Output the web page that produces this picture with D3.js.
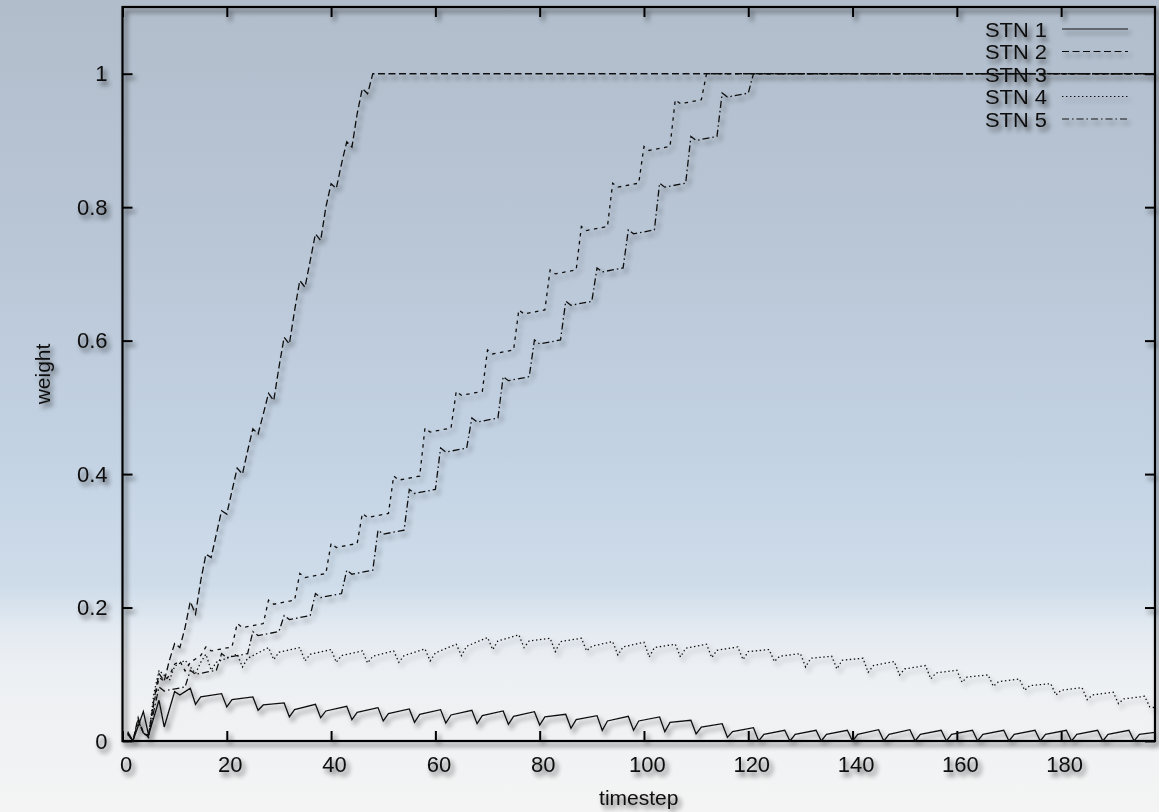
<!DOCTYPE html>
<html>
<head>
<meta charset="utf-8">
<script src="https://cdn.jsdelivr.net/npm/d3@7"></script>
<style>
  html, body { margin: 0; padding: 0; }
  body { width: 1159px; height: 812px; overflow: hidden; }
  text { font-family: "Liberation Sans", Arial, Helvetica, sans-serif; fill: #0d0d0d; }
</style>
</head>
<body>
<div id="chart"></div>
<script>
// ---- data ----
const seriesNames = ["STN 1", "STN 2", "STN 3", "STN 4", "STN 5"];
const xTicks = [0, 20, 40, 60, 80, 100, 120, 140, 160, 180];
const yTicks = [0, 0.2, 0.4, 0.6, 0.8, 1];
const yTickLabels = ["0", "0.2", "0.4", "0.6", "0.8", "1"];

// [timestep, weight]
const stn1 = [[1,0.014],[2,0],[4,0.044],[5,0.009],[7,0.061],[8,0.021],[10,0.074],[11,0.069],[12,0.074],[13,0.079],
  [14,0.055],[15,0.066],[19,0.071],[20,0.051],[21,0.062],[25,0.066],[26,0.046],[27,0.054],[31,0.057],
  [32,0.036],[33,0.047],[37,0.055],[38,0.035],[39,0.045],[43,0.052],[44,0.032],[45,0.043],[49,0.050],
  [50,0.030],[51,0.041],[55,0.048],[56,0.028],[57,0.040],[61,0.047],[62,0.027],[63,0.039],[67,0.046],
  [68,0.026],[69,0.038],[73,0.045],[74,0.025],[75,0.037],[79,0.044],[80,0.024],[81,0.036],[85,0.040],
  [86,0.019],[87,0.032],[91,0.038],[92,0.016],[93,0.030],[97,0.037],[98,0.016],[99,0.030],[103,0.036],
  [104,0.014],[105,0.028],[109,0.031],[110,0.0105],[111,0.021],[115,0.026],[116,0.0055],[117,0.014],[121,0.020],
  [122,0],[123,0.010],[127,0.016],[128,0],[129,0.010],[133,0.016],[134,0],[135,0.010],[139,0.016],
  [140,0],[141,0.010],[145,0.017],[146,0],[147,0.010],[151,0.017],[152,0],[153,0.010],[157,0.016],
  [158,0],[159,0.010],[163,0.016],[164,0],[165,0.010],[169,0.016],[170,0],[171,0.010],[175,0.016],
  [176,0],[177,0.010],[181,0.016],[182,0],[183,0.010],[187,0.016],[188,0],[189,0.010],[193,0.016],
  [194,0],[195,0.010],[198,0.013]];

const stn2 = [[1,0.01],[2,0],[3,0.035],[4,0.012],[5,0.009],[6,0.06],[7,0.101],[8,0.09],[9,0.121],[10,0.146],
  [11,0.14],[12,0.17],[13,0.209],[14,0.19],[15,0.24],[16,0.28],[17,0.275],[18,0.31],[19,0.345],[20,0.34],
  [21,0.375],[22,0.409],[23,0.40],[24,0.435],[25,0.468],[26,0.46],[27,0.49],[28,0.521],[29,0.51],[30,0.56],
  [31,0.605],[32,0.595],[33,0.645],[34,0.69],[35,0.68],[36,0.72],[37,0.76],[38,0.75],[39,0.80],[40,0.835],
  [41,0.828],[42,0.865],[43,0.898],[44,0.89],[45,0.94],[46,0.978],[47,0.97],[48,1.0],[198,1.0]];

const stn3 = [[1,0.012],[2,0],[3,0.032],[4,0.012],[5,0.008],[6,0.055],[7,0.095],[8,0.09],[9,0.098],[10,0.115],
  [11,0.12],[12,0.105],[13,0.118],[15,0.128],[16,0.141],[17,0.135],[21,0.141],[22,0.176],[23,0.170],[27,0.176],
  [28,0.211],[29,0.205],[33,0.211],[34,0.251],[35,0.245],[39,0.251],[40,0.296],[41,0.290],[45,0.296],
  [46,0.341],[47,0.335],[51,0.341],[52,0.397],[53,0.391],[57,0.397],[58,0.469],[59,0.463],[63,0.469],
  [64,0.524],[65,0.518],[69,0.524],[70,0.586],[71,0.580],[75,0.586],[76,0.646],[77,0.640],[81,0.646],
  [82,0.706],[83,0.700],[87,0.706],[88,0.771],[89,0.765],[93,0.771],[94,0.836],[95,0.830],[99,0.836],
  [100,0.891],[101,0.885],[105,0.891],[106,0.961],[107,0.955],[111,0.961],[112,1.0],[198,1.0]];

const stn4 = [[1,0.01],[2,0],[3,0.03],[4,0.012],[5,0.005],[6,0.07],[7,0.106],[9,0.091],[10,0.112],[12,0.121],
  [14,0.101],[15,0.118],[16,0.13],[17,0.106],[18,0.118],[22,0.130],[23,0.111],[24,0.124],[28,0.140],
  [29,0.122],[30,0.133],[34,0.140],[35,0.120],[36,0.130],[40,0.137],[41,0.118],[42,0.128],[46,0.135],
  [47,0.117],[48,0.127],[52,0.135],[53,0.118],[54,0.128],[58,0.138],[59,0.120],[60,0.132],[64,0.145],
  [65,0.128],[66,0.142],[70,0.155],[71,0.137],[72,0.150],[76,0.159],[77,0.140],[78,0.150],[82,0.154],
  [83,0.134],[84,0.149],[88,0.154],[89,0.135],[90,0.142],[94,0.149],[95,0.129],[96,0.141],[100,0.148],
  [101,0.126],[102,0.140],[106,0.145],[107,0.126],[108,0.139],[112,0.145],[113,0.125],[114,0.136],[118,0.141],
  [119,0.122],[120,0.134],[124,0.137],[125,0.119],[126,0.127],[130,0.131],[131,0.111],[132,0.124],[136,0.127],
  [137,0.108],[138,0.121],[142,0.124],[143,0.103],[144,0.113],[148,0.119],[149,0.099],[150,0.108],[154,0.113],
  [155,0.093],[156,0.102],[160,0.106],[161,0.088],[162,0.096],[166,0.099],[167,0.082],[168,0.089],[172,0.093],
  [173,0.076],[174,0.083],[178,0.086],[179,0.069],[180,0.076],[184,0.080],[185,0.062],[186,0.069],[190,0.073],
  [191,0.056],[192,0.063],[196,0.067],[197,0.051],[198,0.05]];

const stn5 = [[1,0.012],[2,0],[3,0.03],[4,0.012],[5,0.006],[6,0.045],[7,0.081],[8,0.075],[12,0.081],
  [13,0.106],[14,0.100],[18,0.106],[19,0.131],[20,0.125],[24,0.131],[25,0.164],[26,0.158],[30,0.164],
  [31,0.188],[32,0.182],[36,0.188],[37,0.221],[38,0.215],[42,0.221],[43,0.256],[44,0.250],[48,0.256],
  [49,0.316],[50,0.310],[54,0.316],[55,0.377],[56,0.371],[60,0.377],[61,0.439],[62,0.433],[66,0.439],
  [67,0.484],[68,0.478],[72,0.484],[73,0.546],[74,0.540],[78,0.546],[79,0.601],[80,0.595],[84,0.601],
  [85,0.659],[86,0.653],[90,0.659],[91,0.709],[92,0.703],[96,0.709],[97,0.766],[98,0.760],[102,0.766],
  [103,0.836],[104,0.830],[108,0.836],[109,0.906],[110,0.900],[114,0.906],[115,0.971],[116,0.965],[120,0.971],
  [121,1.0],[198,1.0]];

const seriesData = [stn1, stn2, stn3, stn4, stn5];
const dashes = [null, "7,3.5", "3.5,4.5", "1.4,2.6", "7,3,1.5,3"];

// ---- layout ----
const width = 1159, height = 812;
const margin = { top: 7, right: 4, bottom: 71, left: 122.5 };
const innerW = width - margin.left - margin.right;
const innerH = height - margin.top - margin.bottom;

const svg = d3.select("#chart").append("svg")
    .attr("width", width)
    .attr("height", height);

const defs = svg.append("defs");

// sky-like backdrop
const grad = defs.append("linearGradient")
    .attr("id", "sky")
    .attr("x1", 0).attr("y1", 0).attr("x2", 0).attr("y2", 1);
[[0, "#b1bdcb"], [0.3, "#b9c6d6"], [0.55, "#c3d2e3"], [0.72, "#cedcea"],
 [0.775, "#e4eaf1"], [0.83, "#edf0f3"], [1, "#f4f4f4"]].forEach(s => {
    grad.append("stop").attr("offset", s[0]).attr("stop-color", s[1]);
});

const shadow = defs.append("filter")
    .attr("id", "shadow")
    .attr("filterUnits", "userSpaceOnUse")
    .attr("x", 0).attr("y", 0).attr("width", width).attr("height", height);
shadow.append("feGaussianBlur").attr("in", "SourceAlpha").attr("stdDeviation", 2.8).attr("result", "blur");
shadow.append("feOffset").attr("in", "blur").attr("dx", 3).attr("dy", 4).attr("result", "off");
const ct = shadow.append("feComponentTransfer").attr("in", "off").attr("result", "soft");
ct.append("feFuncA").attr("type", "linear").attr("slope", 0.6);
const merge = shadow.append("feMerge");
merge.append("feMergeNode").attr("in", "soft");
merge.append("feMergeNode").attr("in", "SourceGraphic");

svg.append("rect")
    .attr("width", width)
    .attr("height", height)
    .attr("fill", "url(#sky)");

const root = svg.append("g").attr("filter", "url(#shadow)");
const g = root.append("g").attr("transform", `translate(${margin.left},${margin.top})`);

// ---- scales ----
const x = d3.scaleLinear().domain([0, 198]).range([0, innerW]);
const y = d3.scaleLinear().domain([0, 1.1]).range([innerH, 0]);

// ---- axes (gnuplot style: inward ticks, mirrored) ----
const xAxis = g.append("g")
    .attr("transform", `translate(0,${innerH})`)
    .call(d3.axisBottom(x).tickValues(xTicks).tickFormat(d3.format("d"))
        .tickSizeInner(-10).tickSizeOuter(0).tickPadding(15));
xAxis.selectAll("text").attr("font-size", 22).attr("dx", 3);

const yAxis = g.append("g")
    .call(d3.axisLeft(y).tickValues(yTicks).tickFormat((d, i) => yTickLabels[i])
        .tickSizeInner(-10).tickSizeOuter(0).tickPadding(15));
yAxis.selectAll("text").attr("font-size", 22);

g.append("g")
    .call(d3.axisTop(x).tickValues(xTicks).tickFormat("").tickSizeInner(-10).tickSizeOuter(0));
g.append("g")
    .attr("transform", `translate(${innerW},0)`)
    .call(d3.axisRight(y).tickValues(yTicks).tickFormat("").tickSizeInner(-10).tickSizeOuter(0));

g.selectAll(".domain").remove();
g.selectAll(".tick line").attr("stroke", "#000").attr("stroke-width", 2);
g.selectAll(".tick text").attr("fill", "#0d0d0d")
    .style("font-family", "'Liberation Sans', Arial, sans-serif");

g.append("rect")
    .attr("width", innerW)
    .attr("height", innerH)
    .attr("fill", "none")
    .attr("stroke", "#000")
    .attr("stroke-width", 2.2);

// axis titles
root.append("text")
    .attr("x", margin.left + x(99))
    .attr("y", 805)
    .attr("text-anchor", "middle")
    .attr("font-size", 21)
    .text("timestep");

root.append("text")
    .attr("transform", `translate(50,${margin.top + y(0.55)}) rotate(-90)`)
    .attr("text-anchor", "middle")
    .attr("font-size", 21)
    .text("weight");

// ---- legend ----
const legend = root.append("g").attr("transform", "translate(1047,29)");
seriesNames.forEach((name, i) => {
    const row = legend.append("g").attr("transform", `translate(0,${i * 22.5})`);
    row.append("text")
        .attr("x", 0)
        .attr("dy", "0.36em")
        .attr("text-anchor", "end")
        .attr("font-size", 21)
        .attr("textLength", 62)
        .attr("lengthAdjust", "spacingAndGlyphs")
        .text(name);
    row.append("line")
        .attr("x1", 15).attr("x2", 81)
        .attr("stroke", "#111")
        .attr("stroke-width", 1.2)
        .attr("stroke-dasharray", dashes[i]);
});

// ---- lines ----
const line = d3.line()
    .x(d => x(d[0]))
    .y(d => y(d[1]));

g.selectAll(".series")
    .data(seriesData)
    .enter()
    .append("path")
    .attr("class", "series")
    .attr("fill", "none")
    .attr("stroke", "#111")
    .attr("stroke-width", 1.3)
    .attr("stroke-linejoin", "miter")
    .attr("stroke-dasharray", (d, i) => dashes[i])
    .attr("d", line);
</script>
</body>
</html>
